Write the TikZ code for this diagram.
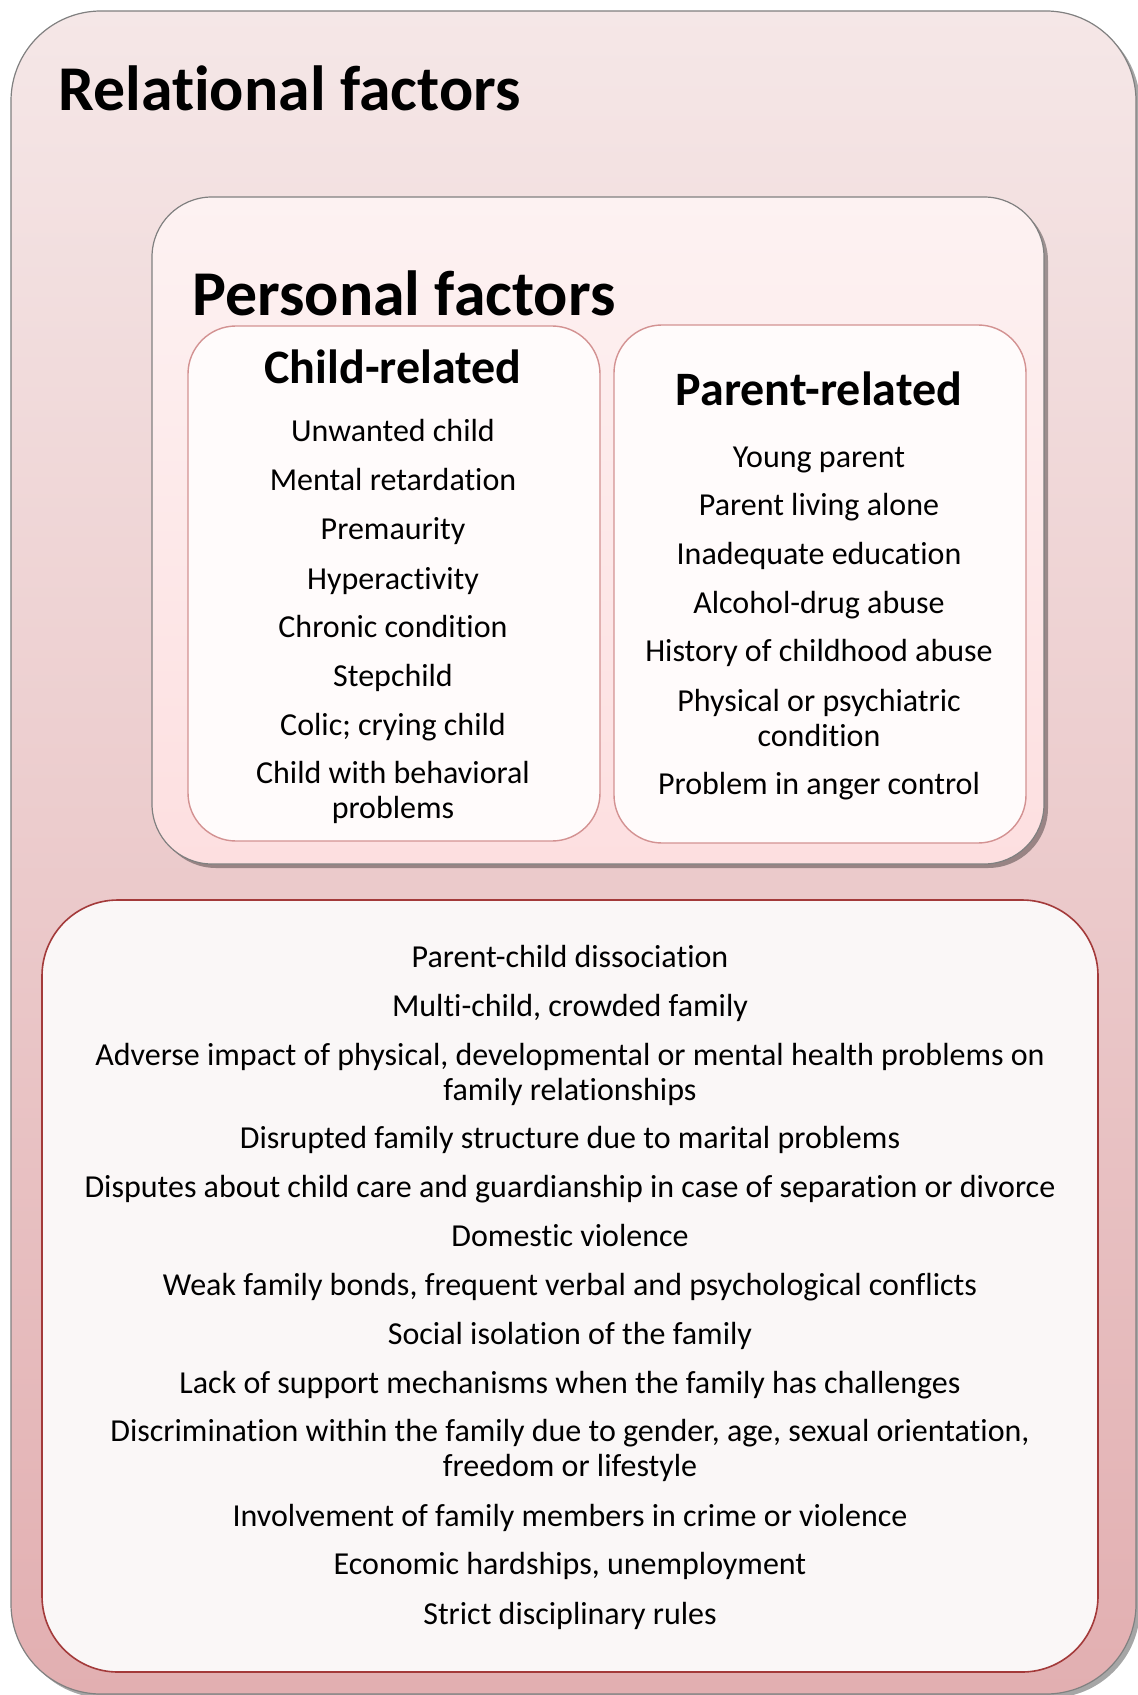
\documentclass[tikz,border=0pt]{standalone}
\usepackage{fontspec}
\setmainfont{Carlito}[Ligatures=NoCommon]
\usepackage{xcolor}
\usetikzlibrary{shadows}

\definecolor{relTop}{HTML}{F5E7E7}
\definecolor{relBot}{HTML}{E2AFB1}
\definecolor{perTop}{HTML}{FDF2F2}
\definecolor{perBot}{HTML}{FDDFE0}
\definecolor{boxFill}{HTML}{FFFBFB}
\definecolor{boxLine}{HTML}{D39292}
\definecolor{lowFill}{HTML}{FAF7F7}
\definecolor{lowLine}{HTML}{A33A3A}

\newcommand{\twolines}[2]{\begin{tabular}[t]{@{}c@{}}#1\\#2\end{tabular}}

\begin{document}
\begin{tikzpicture}[x=0.5pt, y=-0.5pt,
    item/.style={anchor=base, inner sep=0pt, font=\fontsize{16}{17.5}\selectfont},
    head/.style={anchor=base, inner sep=0pt, font=\bfseries\fontsize{24}{26}\selectfont},
    bigtitle/.style={anchor=base west, inner sep=0pt, font=\bfseries\fontsize{31.9}{36}\selectfont},
    softshadow/.style={drop shadow={shadow xshift=2pt, shadow yshift=-2pt, fill=black, opacity=0.35}}]
    \useasboundingbox (0,0) rectangle (1137,1695);

    % 外框：关系因素
    \draw[gray, line width=0.6pt, top color=relTop, bottom color=relBot, rounded corners=45pt, softshadow]
        (11,11) rectangle (1136,1694);
    \node[bigtitle] (relTitle) at (58,111) {Relational factors};

    % 个人因素框
    \draw[gray, line width=0.6pt, top color=perTop, bottom color=perBot, rounded corners=30pt, softshadow]
        (152,197) rectangle (1044,864);
    \node[bigtitle] (perTitle) at (192,316) {Personal factors};

    % 儿童 / 父母
    \draw[boxLine, line width=0.7pt, fill=boxFill, rounded corners=24pt] (188,326) rectangle (600,841);
    \draw[boxLine, line width=0.7pt, fill=boxFill, rounded corners=24pt] (614,325) rectangle (1026,843);
    \node[head] (childTitle) at (393,384) {Child-related};
    \node[head] (parentTitle) at (819,406) {Parent-related};

    \foreach \y/\t [count=\i] in {442/Unwanted child, 490.5/Mental retardation, 539/Premaurity,
        589/Hyperactivity, 637.5/Chronic condition, 686/Stepchild, 735/{Colic; crying child},
        783.5/{\twolines{Child with behavioral}{problems}}}
        \node[item] (c\i) at (393,\y) {\t};

    \foreach \y/\t [count=\i] in {467/Young parent, 515/Parent living alone, 564/Inadequate education,
        613/Alcohol-drug abuse, 661/History of childhood abuse,
        711/{\twolines{Physical or psychiatric}{condition}},
        794/Problem in anger control}
        \node[item] (p\i) at (819,\y) {\t};

    % 关系因素列表
    \draw[lowLine, line width=0.8pt, fill=lowFill, rounded corners=38pt] (42,900) rectangle (1098,1672);
    \foreach \y/\t [count=\i] in {967/Parent-child dissociation, 1016/{Multi-child, crowded family},
        1065.5/{\twolines{Adverse impact of physical, developmental or mental health problems on}{family relationships}},
        1148.7/Disrupted family structure due to marital problems,
        1197.4/Disputes about child care and guardianship in case of separation or divorce,
        1246/Domestic violence,
        1295.7/{Weak family bonds, frequent verbal and psychological conflicts},
        1344.3/Social isolation of the family,
        1393/Lack of support mechanisms when the family has challenges,
        1441.6/{\twolines{Discrimination within the family due to gender, age, sexual orientation,}{freedom or lifestyle}},
        1526/Involvement of family members in crime or violence,
        1574.6/{Economic hardships, unemployment},
        1624.3/Strict disciplinary rules}
        \node[item] (r\i) at (570,\y) {\t};
\end{tikzpicture}
\end{document}
